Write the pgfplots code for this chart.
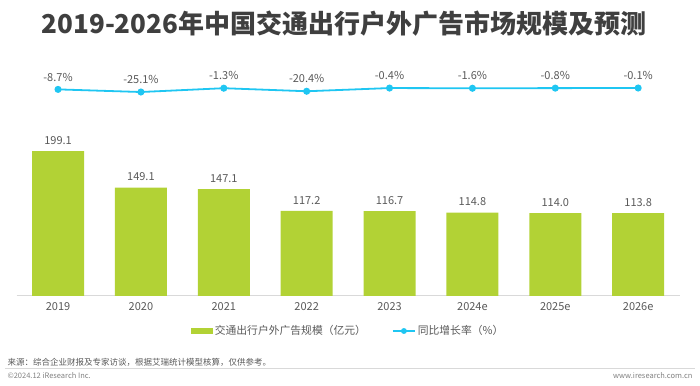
\documentclass[border=0pt]{standalone}
\usepackage{pgfplots}
\pgfplotsset{compat=1.18}
\usepackage{fontspec}
\setmainfont{Noto Sans CJK SC}
\definecolor{barG}{HTML}{B2D235}
\definecolor{lineC}{HTML}{1FC6F2}
\definecolor{txt}{HTML}{595959}
\definecolor{ttl}{HTML}{3F3F3F}
\definecolor{axg}{HTML}{D9D9D9}
\begin{document}
\begin{tikzpicture}
\path[use as bounding box] (0pt,0pt) rectangle (700pt,385pt);
\node[font=\fontsize{26}{30}\selectfont\bfseries, text=ttl] at (344pt,361pt) {2019-2026年中国交通出行户外广告市场规模及预测};
\begin{axis}[
  at={(16.6pt,89pt)}, anchor=south west,
  scale only axis, width=663pt, height=160pt,
  xmin=-0.5, xmax=7.5, ymin=0, ymax=220,
  axis x line*=bottom, axis y line=none,
  x axis line style={-, draw=axg, line width=1pt},
  xtick={0,...,7},
  xticklabels={2019,2020,2021,2022,2023,2024e,2025e,2026e},
  major tick length=0pt,
  xticklabel style={font=\fontsize{11}{13}\selectfont, text=txt, yshift=-3pt},
  /pgf/number format/assume math mode=true,
  ybar, bar width=52pt,
  nodes near coords={\pgfmathprintnumber[fixed,fixed zerofill,precision=1,assume math mode=true]{\pgfplotspointmeta}},
  every node near coord/.append style={font=\fontsize{11}{13}\selectfont, text=txt, yshift=3pt},
  legend style={at={(0.5,0)}, anchor=center, yshift=-35pt, draw=none, fill=none,
    font=\fontsize{10.8}{12}\selectfont, text=txt, legend columns=2,
    /tikz/every even column/.append style={column sep=24pt}},
  clip=false,
]
\addplot[fill=barG, draw=none,
  legend image code/.code={\fill[barG] (0pt,-2.8pt) rectangle (22pt,2.8pt);}]
  coordinates {(0,199.1) (1,149.1) (2,147.1) (3,117.2) (4,116.7) (5,114.8) (6,114.0) (7,113.8)};
\addlegendentry{交通出行户外广告规模（亿元）}
\addlegendimage{lineC, line width=1.8pt, mark=*, mark size=1.8pt, legend image code/.code={\draw[lineC, line width=1.8pt] (0pt,0pt) -- (22pt,0pt); \fill[lineC] (11pt,0pt) circle (2pt);}}
\addlegendentry{同比增长率（\%）}
\end{axis}
\begin{axis}[
  at={(16.6pt,281pt)}, anchor=south west,
  scale only axis, width=663pt, height=16pt,
  xmin=-0.5, xmax=7.5, ymin=-100, ymax=0,
  axis lines=none, clip=false,
  point meta=explicit symbolic,
  nodes near coords,
  every node near coord/.append style={font=\fontsize{11}{13}\selectfont, text=txt, anchor=south, yshift=4pt},
]
\addplot[lineC, line width=1.8pt, mark=*, mark size=2.6pt, mark options={fill=lineC, draw=lineC}]
  coordinates {(0,-8.7)[-8.7\%] (1,-25.1)[-25.1\%] (2,-1.3)[-1.3\%] (3,-20.4)[-20.4\%] (4,-0.4)[-0.4\%] (5,-1.6)[-1.6\%] (6,-0.8)[-0.8\%] (7,-0.1)[-0.1\%]};
\end{axis}
\draw[axg, line width=0.8pt] (5pt,17pt) -- (695pt,17pt);
\node[anchor=west, font=\fontsize{8.5}{10}\selectfont, text=txt] at (4pt,22.5pt) {来源：综合企业财报及专家访谈，根据艾瑞统计模型核算，仅供参考。};
\node[anchor=west, font=\fontsize{7.5}{9}\selectfont, text=gray] at (4pt,9pt) {©2024.12 iResearch Inc.};
\node[anchor=east, font=\fontsize{7.5}{9}\selectfont, text=gray] at (696pt,9pt) {www.iresearch.com.cn};
\end{tikzpicture}
\end{document}
